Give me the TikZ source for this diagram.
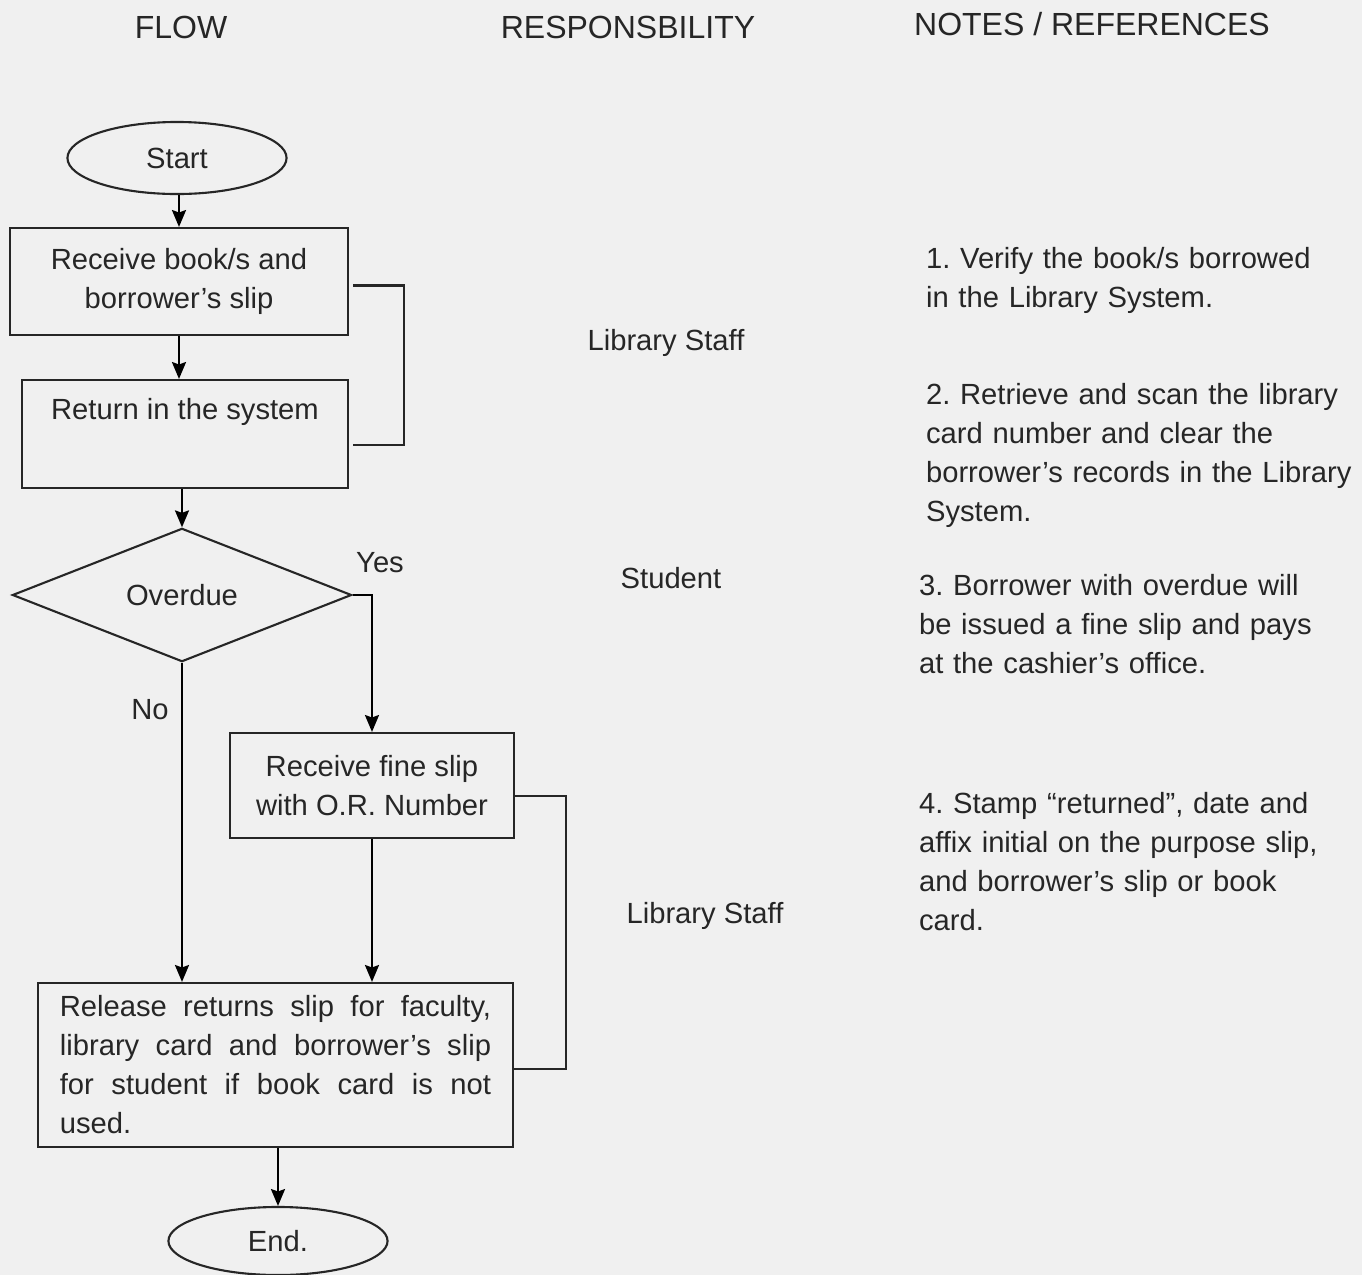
\documentclass[tikz,border=0pt]{standalone}
\usepackage{fontspec}
\setmainfont{Liberation Sans}
\usetikzlibrary{arrows,arrows.meta,shapes,positioning}
\newcommand{\fullline}[1]{\makebox[4.31cm][s]{\spaceskip=0pt\xspaceskip=0pt\relax #1}}

\begin{document}
\frenchspacing
\begin{tikzpicture}[->,>={Stealth[length=4.8pt,width=4pt,inset=0.7pt]},semithick,x=0.01cm,y=-0.01cm,
                    every node/.style={text=black!85,font=\fontsize{8.3}{11.1}\selectfont}]
  \tikzstyle{terminal}=[ellipse,draw=black!85,inner sep=0pt,minimum width=2.19cm,minimum height=0.72cm]
  \tikzstyle{process}=[rectangle,draw=black!85,align=center,inner sep=0pt]
  \tikzstyle{decision}=[diamond,draw=black!85,inner sep=0pt,minimum width=3.39cm,minimum height=1.24cm]
  \tikzstyle{heading}=[font=\fontsize{9.1}{11}\selectfont]
  \tikzstyle{note}=[anchor=north west,align=left,inner sep=0pt,text width=4.5cm]
  \tikzstyle{group}=[-,draw=black!85]

  % page
  \fill[-,black!6] (0,0) rectangle (1362,1275);
  \useasboundingbox (0,0) rectangle (1362,1275);

  % column heads
  \node[heading] (flowhead) at (181,27)   {FLOW};
  \node[heading] (resphead) at (628,27)   {RESPONSBILITY};
  \node[heading] (notehead) at (1092,24)  {NOTES / REFERENCES};

  % flow
  \node[terminal] (start) at (177,158) {Start};
  \node[process,minimum width=3.38cm,minimum height=1.07cm] (receive) at (179,281.5)
       {Receive book/s and\\borrower’s slip};
  \node[process,minimum width=3.26cm,minimum height=1.08cm] (return) at (185,434)
       {Return in the system\\[3.4pt] \mbox{}};
  \node[decision] (overdue) at (182,595) {Overdue};
  \node[process,minimum width=2.84cm,minimum height=1.05cm] (fine) at (372,785.5)
       {Receive fine slip\\with O.R. Number};
  \node[process,minimum width=4.75cm,minimum height=1.64cm,align=justify,text width=4.31cm] (release) at (275.5,1065)
       {\fullline{Release returns slip for faculty,}\\
        \fullline{library card and borrower’s slip}\\
        \fullline{for student if book card is not}\\
        used.};
  \node[terminal,minimum height=0.68cm] (end) at (278,1241) {End.};

  \node (yes) at (380,563) {Yes};
  \node (no)  at (150,710) {No};

  % responsibility
  \node (staffa)  at (666,343) {Library Staff};
  \node (student) at (671,578) {Student};
  \node (staffb)  at (705,916) {Library Staff};

  % notes
  \node[note] (notea) at (925,246) {1. Verify the book/s borrowed\\in the Library System.};
  \node[note] (noteb) at (925,382) {2. Retrieve and scan the library\\card number and clear the\\borrower’s records in the Library\\System.};
  \node[note] (notec) at (918,573) {3. Borrower with overdue will\\be issued a fine slip and pays\\at the cashier’s office.};
  \node[note] (noted) at (918,791) {4. Stamp “returned”, date and\\affix initial on the purpose slip,\\and borrower’s slip or book\\card.};

  % connectors
  \draw (receive.north |- start.south) -- (receive.north);
  \draw (receive.south) -- (receive.south |- return.north);
  \draw (overdue.north |- return.south) -- (overdue.north);
  \draw (overdue.east) -| (fine.north);
  \draw (overdue.south) -- (overdue.south |- release.north);
  \draw (fine.south) -- (fine.south |- release.north);
  \draw (end.north |- release.south) -- (end.north);

  % brackets
  \draw[group] ([shift={(4,4)}]receive.east) -- ++(51,0) |- ([shift={(4,11)}]return.east);
  \draw[group] ([shift={(0,10.5)}]fine.east) -- ++(51,0) |- ([shift={(0,4)}]release.east);
\end{tikzpicture}
\end{document}
